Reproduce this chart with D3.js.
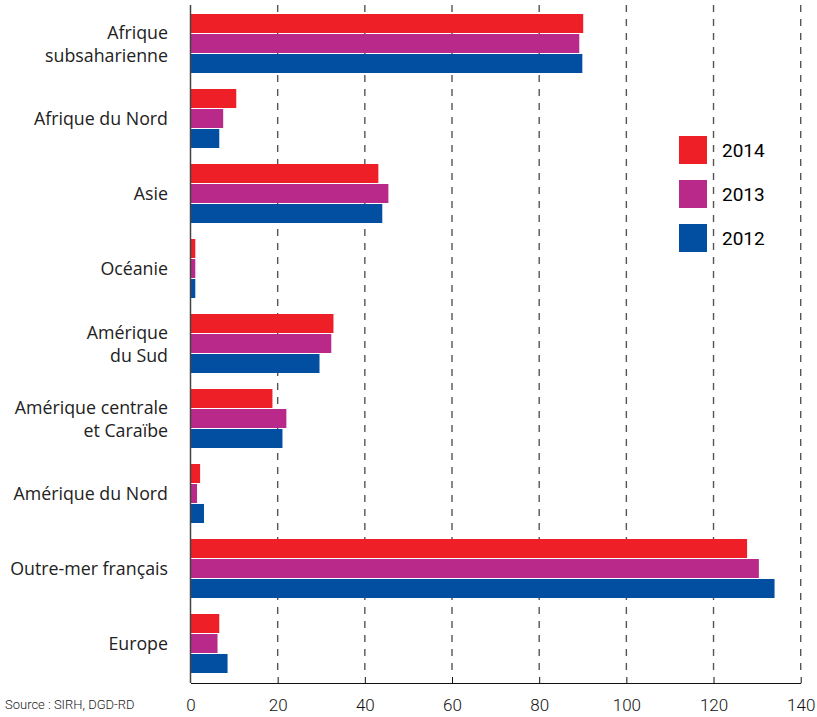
<!DOCTYPE html>
<html>
<head>
<meta charset="utf-8">
<script src="https://cdn.jsdelivr.net/npm/d3@7"></script>
<style>
  body { margin: 0; background: #fff; }
  svg { font-family: Roboto, "Noto Sans", sans-serif; }
</style>
</head>
<body>
<svg id="chart"></svg>
<script>
var viewWidth = 817;
var viewHeight = 717;

// data
var regions = ["Afrique subsaharienne", "Afrique du Nord", "Asie", "Océanie",
  "Amérique du Sud", "Amérique centrale et Caraïbe", "Amérique du Nord",
  "Outre-mer français", "Europe"];
var regionLines = [["Afrique", "subsaharienne"], ["Afrique du Nord"], ["Asie"], ["Océanie"],
  ["Amérique", "du Sud"], ["Amérique centrale", "et Caraïbe"], ["Amérique du Nord"],
  ["Outre-mer français"], ["Europe"]];
var years = ["2014", "2013", "2012"];
var values2014 = [90.1, 10.5, 43.1, 1.1, 32.8, 18.8, 2.2, 127.7, 6.6];
var values2013 = [89.2, 7.5, 45.4, 1.1, 32.3, 22.0, 1.5, 130.4, 6.2];
var values2012 = [89.9, 6.6, 44.0, 1.1, 29.6, 21.1, 3.1, 134.0, 8.5];
var xTicks = [0, 20, 40, 60, 80, 100, 120, 140];
var sourceText = "Source : SIRH, DGD-RD";

var colors = {"2014": "#ee1f26", "2013": "#b8298a", "2012": "#024fa2"};
var seriesValues = {"2014": values2014, "2013": values2013, "2012": values2012};

var margin = {left: 190.5, right: 16, top: 6, bottom: 34};

var svg = d3.select("#chart")
    .attr("width", viewWidth)
    .attr("height", viewHeight);

var x = d3.scaleLinear()
  .domain([0, 140])
  .range([margin.left, 800.7]);

var y = d3.scaleBand()
  .domain(regions)
  .range([6, 681])
  .paddingInner(16 / 75)
  .paddingOuter(8 / 75);

var yInner = d3.scaleBand()
  .domain(years)
  .range([0, y.bandwidth()])
  .paddingInner(0.05);

// dashed grid lines
svg.append("g")
  .selectAll("line")
  .data(xTicks.filter(function(d) { return d > 0; }))
  .enter().append("line")
  .attr("x1", function(d) { return x(d); })
  .attr("x2", function(d) { return x(d); })
  .attr("y1", 5)
  .attr("y2", 676)
  .attr("stroke", "#555")
  .attr("stroke-width", 1.4)
  .attr("stroke-dasharray", "7,7");

// bars
var rows = [];
regions.forEach(function(r, i) {
  years.forEach(function(yr) {
    rows.push({region: r, year: yr, value: seriesValues[yr][i]});
  });
});

svg.append("g")
  .selectAll("rect")
  .data(rows)
  .enter().append("rect")
  .attr("x", x(0))
  .attr("y", function(d) { return y(d.region) + yInner(d.year); })
  .attr("width", function(d) { return x(d.value) - x(0); })
  .attr("height", yInner.bandwidth())
  .attr("fill", function(d) { return colors[d.year]; });

// y axis line
svg.append("line")
  .attr("x1", x(0)).attr("x2", x(0))
  .attr("y1", 5).attr("y2", 683)
  .attr("stroke", "#444")
  .attr("stroke-width", 1.5);

// x axis
var xAxis = d3.axisBottom(x)
  .tickValues(xTicks)
  .tickSize(-6)
  .tickSizeOuter(0)
  .tickPadding(16);

var gx = svg.append("g")
  .attr("transform", "translate(0,683)")
  .call(xAxis);
gx.select(".domain").attr("stroke", "#111").attr("stroke-width", 1.2);
gx.selectAll(".tick line").attr("stroke", "#111").filter(function(d) { return d === 0; }).remove();
gx.selectAll(".tick text")
  .attr("font-size", 17)
  .attr("font-weight", 300)
  .attr("fill", "#111")
  .attr("font-family", "Roboto, sans-serif");

// category labels
var labels = svg.append("g")
  .selectAll("text")
  .data(regions)
  .enter().append("text")
  .attr("x", 168)
  .attr("text-anchor", "end")
  .attr("font-family", "'Open Sans', sans-serif")
  .attr("font-size", 17.8)
  .attr("fill", "#222");

labels.each(function(r, i) {
  var lines = regionLines[i];
  var cy = y(r) + y.bandwidth() / 2;
  var first = cy + 6.5 - (lines.length - 1) * 11.5;
  var t = d3.select(this);
  lines.forEach(function(line, k) {
    t.append("tspan")
      .attr("x", 168)
      .attr("y", first + k * 23)
      .text(line);
  });
});

// legend
var legend = svg.append("g")
  .selectAll("g")
  .data(years)
  .enter().append("g")
  .attr("transform", function(d, i) { return "translate(679," + (136 + i * 44) + ")"; });

legend.append("rect")
  .attr("width", 28)
  .attr("height", 28)
  .attr("fill", function(d) { return colors[d]; });

legend.append("text")
  .attr("x", 43)
  .attr("y", 21)
  .attr("font-size", 19)
  .attr("fill", "#000")
  .text(function(d) { return d; });

// source
svg.append("text")
  .attr("x", 5)
  .attr("y", 709)
  .attr("font-size", 13)
  .attr("font-weight", 300)
  .attr("fill", "#222")
  .text(sourceText);
</script>
</body>
</html>
